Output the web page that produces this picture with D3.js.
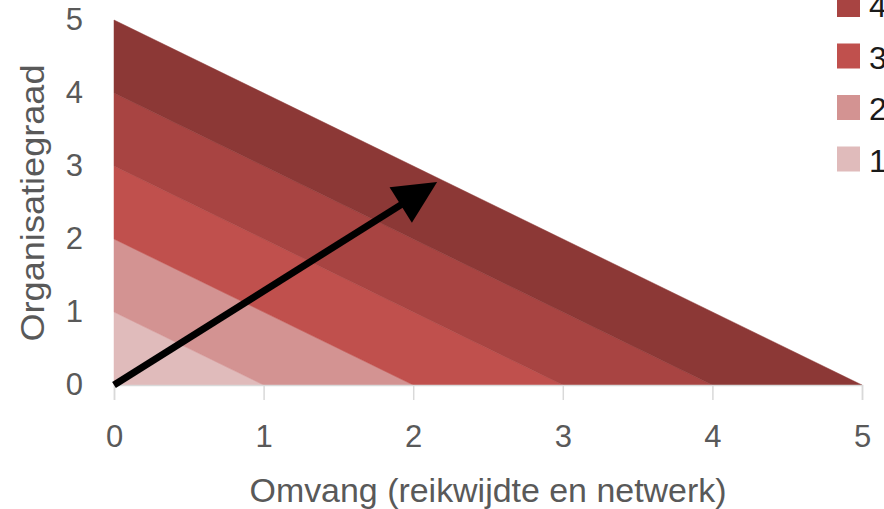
<!DOCTYPE html>
<html>
<head>
<meta charset="utf-8">
<script src="https://cdn.jsdelivr.net/npm/d3@7"></script>
<style>
  html, body { margin: 0; padding: 0; background: #fff; }
  svg { display: block; }
  text { font-family: "Liberation Sans", Arial, sans-serif; }
</style>
</head>
<body>
<svg id="chart" width="884" height="509"></svg>
<script>
// ---- data ----
const bandLevels = [1, 2, 3, 4, 5];           // band k covers k-1 <= x+y <= k
const bandColors = ["#e0bbbb", "#d39392", "#c0504d", "#a84442", "#8c3836"];
const legendLabels = ["4", "3", "2", "1"];
const legendColors = ["#a84442", "#c0504d", "#d39392", "#e0bbbb"];
const xTicks = [0, 1, 2, 3, 4, 5];
const yTicks = [0, 1, 2, 3, 4, 5];
const arrowStart = [0, 0];
const arrowEnd = [2.16, 2.78];
const xTitle = "Omvang (reikwijdte en netwerk)";
const yTitle = "Organisatiegraad";

const svg = d3.select("#chart");
const x = d3.scaleLinear().domain([0, 5]).range([114, 862]);
const y = d3.scaleLinear().domain([0, 5]).range([385, 20]);

// bands
const bands = bandLevels.map((k, i) => ({k, color: bandColors[i]}));
svg.append("g").selectAll("path")
  .data(bands)
  .join("path")
  .attr("d", d => {
    const pts = [[0, d.k - 1], [0, d.k], [d.k, 0], [d.k - 1, 0]];
    return "M" + pts.map(p => x(p[0]) + "," + y(p[1])).join("L") + "Z";
  })
  .attr("fill", d => d.color)
  .attr("stroke", d => d.color)
  .attr("stroke-width", 0.5);

// x axis
const xAxis = svg.append("g").attr("transform", `translate(0,${y(0)})`)
  .call(d3.axisBottom(x).tickValues(xTicks).tickSize(15).tickPadding(25).tickFormat(d3.format("d")));
xAxis.select(".domain").attr("stroke", "#d9d9d9").attr("stroke-width", 1.5);
xAxis.selectAll(".tick line").attr("stroke", "#d9d9d9").attr("stroke-width", 1.5);
xAxis.selectAll(".tick text").attr("fill", "#595959").attr("font-size", 31);

// y axis (labels only)
const yAxis = svg.append("g").attr("transform", `translate(${x(0)},0)`)
  .call(d3.axisLeft(y).tickValues(yTicks).tickSize(0).tickPadding(31).tickFormat(d3.format("d")));
yAxis.select(".domain").remove();
yAxis.selectAll(".tick text").attr("fill", "#595959").attr("font-size", 31);

// axis titles
svg.append("text").attr("x", 488).attr("y", 502).attr("text-anchor", "middle")
  .attr("fill", "#595959").attr("font-size", 34)
  .attr("textLength", 477).attr("lengthAdjust", "spacingAndGlyphs").text(xTitle);
svg.append("text").attr("transform", "translate(44,203) rotate(-90)")
  .attr("text-anchor", "middle")
  .attr("fill", "#595959").attr("font-size", 34)
  .attr("textLength", 277).attr("lengthAdjust", "spacingAndGlyphs").text(yTitle);

// arrow
const sx = x(arrowStart[0]), sy = y(arrowStart[1]);
const ex = x(arrowEnd[0]), ey = y(arrowEnd[1]);
const ang = Math.atan2(ey - sy, ex - sx);
const headLen = 43, headHalf = 21;
const bx = ex - headLen * Math.cos(ang), by = ey - headLen * Math.sin(ang);
svg.append("line").attr("x1", sx).attr("y1", sy).attr("x2", bx + 2 * Math.cos(ang)).attr("y2", by + 2 * Math.sin(ang))
  .attr("stroke", "#000").attr("stroke-width", 7);
svg.append("path")
  .attr("d", `M${ex},${ey}L${bx - headHalf * Math.sin(ang)},${by + headHalf * Math.cos(ang)}L${bx + headHalf * Math.sin(ang)},${by - headHalf * Math.cos(ang)}Z`)
  .attr("fill", "#000");

// legend (top entry partly outside the picture, as in the reference)
const lg = svg.append("g").selectAll("g")
  .data(legendLabels)
  .join("g")
  .attr("transform", (d, i) => `translate(837,${-8 + i * 51.5})`);
lg.append("rect").attr("width", 23).attr("height", 25)
  .attr("fill", (d, i) => legendColors[i]);
lg.append("text").attr("x", 32).attr("y", 25).attr("fill", "#1a1a1a").attr("font-size", 32).text(d => d);
</script>
</body>
</html>
